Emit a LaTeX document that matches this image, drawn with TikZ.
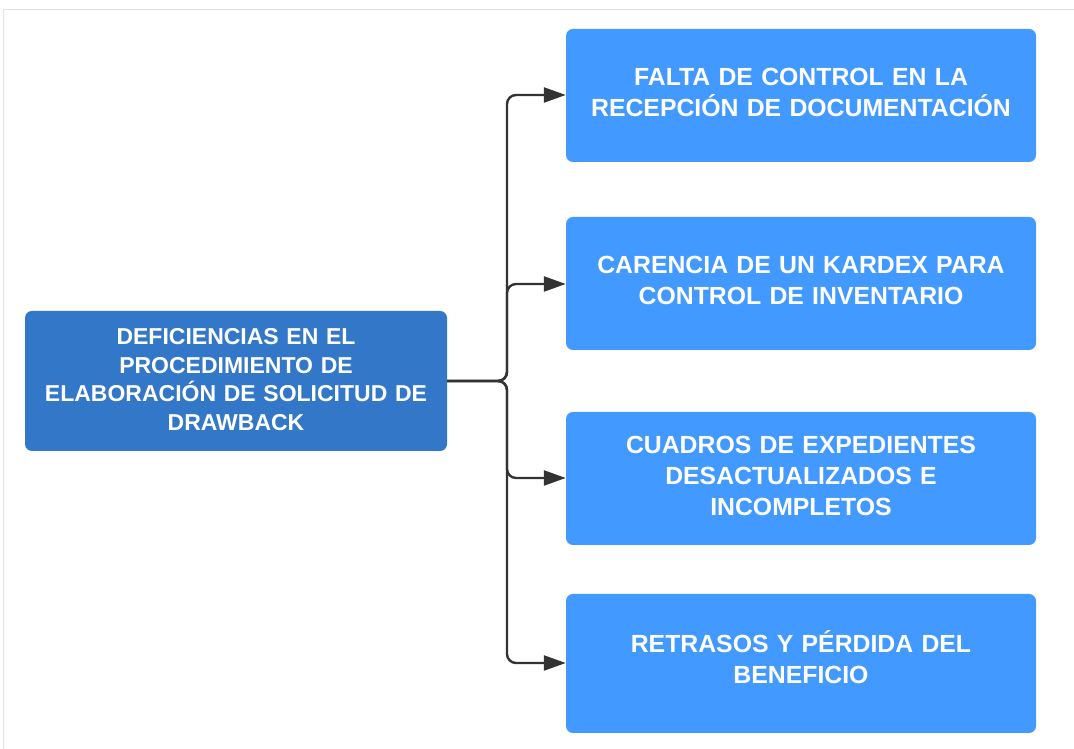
\documentclass[tikz,border=0pt]{standalone}
\usepackage{fontspec}
\setmainfont{Liberation Sans}
\usetikzlibrary{arrows.meta}
\definecolor{rootblue}{RGB}{51,120,200}
\definecolor{leafblue}{RGB}{66,153,255}
\definecolor{linegray}{RGB}{51,51,51}
\definecolor{framegray}{RGB}{226,226,226}
\tikzset{
  rootbox/.style={fill=rootblue, draw=none, rounded corners=7pt, text=white,
    minimum width=422pt, minimum height=140pt, text width=410pt, align=center,
    font=\fontsize{23}{28.5}\selectfont\bfseries, inner sep=0pt,
    execute at end node={\par\vspace{3pt}}},
  leafbox/.style={fill=leafblue, draw=none, rounded corners=7pt, text=white,
    minimum width=470pt, text width=460pt, align=center,
    font=\fontsize{24.8}{31}\selectfont\bfseries, inner sep=0pt},
  lift/.style={execute at end node={\par\vspace{#1}}},
  conn/.style={draw=linegray, line width=2.4pt, rounded corners=9pt,
    -{Triangle[length=22pt,width=15pt]}},
}
\begin{document}
\begin{tikzpicture}[x=1pt,y=1pt]
\useasboundingbox (0,0) rectangle (1074,749);
\fill[white] (0,0) rectangle (1074,749);
\draw[framegray, line width=1.5pt] (3.5,0) -- (3.5,739.5) -- (1074,739.5);
\node[rootbox] (root) at (236,368) {DEFICIENCIAS EN EL\\PROCEDIMIENTO DE\\ELABORACIÓN DE SOLICITUD DE\\DRAWBACK};
\node[leafbox, lift=6pt, minimum height=133pt] (a) at (801,653.5) {FALTA DE CONTROL EN LA\\RECEPCIÓN DE DOCUMENTACIÓN};
\node[leafbox, lift=6pt, minimum height=133pt] (b) at (801,465.5) {CARENCIA DE UN KARDEX PARA\\CONTROL DE INVENTARIO};
\node[leafbox, lift=5pt, minimum height=133pt] (c) at (801,270.5) {CUADROS DE EXPEDIENTES\\DESACTUALIZADOS E\\INCOMPLETOS};
\node[leafbox, lift=12pt, minimum height=139pt] (d) at (801,85.5) {RETRASOS Y PÉRDIDA DEL\\BENEFICIO};
\coordinate (bus) at (507,368);
\foreach \t/\yy in {a/654,b/465,c/271,d/86}{
  \draw[conn] (root.east) -- (bus) |- (\t.west |- 0,\yy);
}
\end{tikzpicture}
\end{document}
